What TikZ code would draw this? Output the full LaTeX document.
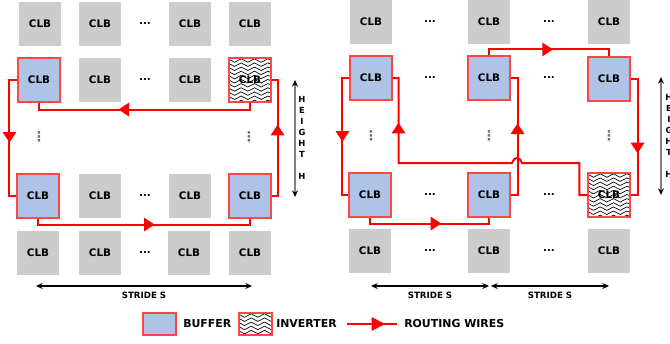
\documentclass[tikz,border=0pt]{standalone}
\usepackage{fontspec}
\setmainfont{DejaVu Sans}
\definecolor{clbgray}{RGB}{204,204,204}
\definecolor{bufblue}{RGB}{174,195,230}
\definecolor{wirered}{RGB}{255,0,0}
\definecolor{edgered}{RGB}{255,70,70}
\definecolor{dotgray}{RGB}{110,110,110}
\usetikzlibrary{arrows.meta,decorations.pathmorphing,decorations.markings,calc}

\tikzset{
  clb/.style={fill=clbgray,minimum width=31.5pt,minimum height=33pt,inner sep=0pt,
              font=\fontsize{7.8}{9}\selectfont\bfseries},
  buffer/.style={clb,fill=bufblue,draw=edgered,line width=0.8pt},
  inverter/.style={clb,fill=white,draw=edgered,line width=0.8pt,
    path picture={\foreach \k in {1,...,11}
      \draw[black,line width=0.5pt,decorate,decoration={snake,amplitude=1.3pt,segment length=10pt}]
        ([xshift=-4pt,yshift={1.2pt-\k*3.1pt}]path picture bounding box.north west) --
        ([xshift=4pt,yshift={1.2pt-\k*3.1pt}]path picture bounding box.north east);}},
  hdots/.style={font=\fontsize{7.8}{9}\selectfont\bfseries},
  vdots/.style={text=dotgray,font=\fontsize{10}{11}\selectfont\bfseries},
  wire/.style={wirered,line width=1.5pt},
  wirearrow/.style={postaction={decorate,decoration={markings,
      mark=at position #1 with {\arrow{Triangle[length=8pt,width=10pt]}}}}},
  legendarrow/.style={postaction={decorate,decoration={markings,
      mark=at position #1 with {\arrow{Triangle[length=10pt,width=10pt]}}}}},
  dimarrow/.style={{Stealth[length=5pt,width=4.5pt]}-{Stealth[length=5pt,width=4.5pt]},line width=0.8pt},
  heightarrow/.style={draw=gray,line width=0.9pt,
      {Stealth[length=5pt,width=4.5pt,color=black]}-{Stealth[length=5pt,width=4.5pt,color=black]}},
  dimlabel/.style={font=\fontsize{6.5}{8}\selectfont\bfseries},
  heightlabel/.style={align=center,inner sep=0pt,font=\fontsize{6.3}{8.25}\selectfont\bfseries},
  legtext/.style={anchor=west,inner sep=0pt,font=\fontsize{8.2}{10}\selectfont\bfseries}
}

\begin{document}
\begin{tikzpicture}[x=0.75pt,y=-0.75pt]
  \useasboundingbox (0,0) rectangle (670,343);

  % left array: one stride
  \node[clb] (la1) at (40,24) {CLB};
  \node[clb] (la2) at (100,24) {CLB};
  \node[hdots] (lad) at (145,24) {...};
  \node[clb] (la3) at (190,24) {CLB};
  \node[clb] (la4) at (250,24) {CLB};

  \node[buffer] (lb1) at (39,80) {CLB};
  \node[clb] (lb2) at (100,80) {CLB};
  \node[hdots] (lbd) at (145,80) {...};
  \node[clb] (lb3) at (190,80) {CLB};
  \node[inverter] (lb4) at (250,80) {CLB};

  \node[vdots] (lv1) at (39,137) {⋮};
  \node[vdots] (lv4) at (249,137) {⋮};

  \node[buffer] (lc1) at (38,196) {CLB};
  \node[clb] (lc2) at (100,196) {CLB};
  \node[hdots] (lcd) at (145,196) {...};
  \node[clb] (lc3) at (190,196) {CLB};
  \node[buffer] (lc4) at (250,196) {CLB};

  \node[clb] (ld1) at (38,253) {CLB};
  \node[clb] (ld2) at (100,253) {CLB};
  \node[hdots] (ldd) at (145,253) {...};
  \node[clb] (ld3) at (189,253) {CLB};
  \node[clb] (ld4) at (250,253) {CLB};

  % left routing wires
  \draw[wire,wirearrow=104pt] (lb4.south) -- ++(0,7) -| (lb1.south);
  \draw[wire,wirearrow=53pt] (lb1.west) -- ++(-8,0) |- (lc1.west);
  \draw[wire,wirearrow=92pt] (lc1.south) -- ++(0,6) -| (lc4.south);
  \draw[wire,wirearrow=58pt] (lc4.east) -- ++(6,0) |- (lb4.east);

  % left dimensions
  \coordinate (lht) at (295,80);
  \coordinate (lhb) at (295,197);
  \draw[heightarrow] (lht) -- (lhb);
  \node[heightlabel] (lheight) at (302,138) {H\\E\\I\\G\\H\\T\\[8.25pt]H};
  \coordinate (lsa) at (36,286);
  \coordinate (lsb) at (252,286);
  \draw[dimarrow] (lsa) -- (lsb);
  \node[dimlabel] (lstride) at (144,295) {STRIDE S};

  % right array: two strides
  \node[clb] (ra1) at (371,22) {CLB};
  \node[hdots] (rad1) at (430,22) {...};
  \node[clb] (ra2) at (489,22) {CLB};
  \node[hdots] (rad2) at (549,22) {...};
  \node[clb] (ra3) at (609,22) {CLB};

  \node[buffer] (rb1) at (371,78) {CLB};
  \node[hdots] (rbd1) at (430,78) {...};
  \node[buffer] (rb2) at (489,78) {CLB};
  \node[hdots] (rbd2) at (549,78) {...};
  \node[buffer] (rb3) at (609,79) {CLB};

  \node[vdots] (rv1) at (371,136) {⋮};
  \node[vdots] (rv2) at (489,136) {⋮};
  \node[vdots] (rv3) at (609,136) {⋮};

  \node[buffer] (rc1) at (370,195) {CLB};
  \node[hdots] (rcd1) at (430,195) {...};
  \node[buffer] (rc2) at (489,195) {CLB};
  \node[hdots] (rcd2) at (549,195) {...};
  \node[inverter] (rc3) at (609,195) {CLB};

  \node[clb] (rd1) at (370,251) {CLB};
  \node[hdots] (rdd1) at (430,251) {...};
  \node[clb] (rd2) at (489,251) {CLB};
  \node[hdots] (rdd2) at (549,251) {...};
  \node[clb] (rd3) at (609,251) {CLB};

  % right routing wires
  \coordinate (hopR) at (522,163);
  \coordinate (hopL) at (512,163);
  \draw[wire,wirearrow=52.5pt] (rb2.north) -- ++(0,-6) -| (rb3.north);
  \draw[wire,wirearrow=53pt] (rb1.west) -- ++(-7,0) |- (rc1.west);
  \draw[wire,wirearrow=-38pt] (rc3.west) -- ++(-8,0) |- (hopR)
    .. controls (519,156) and (515,156) .. (hopL) -| ([xshift=4.5pt]rb1.east) -- (rb1.east);
  \draw[wire,wirearrow=59pt] (rc2.east) -- ++(7,0) |- (rb2.east);
  \draw[wire,wirearrow=61pt] (rb3.east) -- ++(7,0) |- (rc3.east);
  \draw[wire,wirearrow=58pt] (rc1.south) -- ++(0,6) -| (rc2.south);

  % right dimensions
  \coordinate (rht) at (661,77);
  \coordinate (rhb) at (661,195);
  \draw[heightarrow] (rht) -- (rhb);
  \node[heightlabel] (rheight) at (669,136) {H\\E\\I\\G\\H\\T\\[8.25pt]H};
  \coordinate (rsa) at (371,286);
  \coordinate (rsb) at (489,286);
  \coordinate (rsc) at (491,286);
  \coordinate (rsd) at (609,286);
  \draw[dimarrow] (rsa) -- (rsb);
  \draw[dimarrow] (rsc) -- (rsd);
  \node[dimlabel] (rstride1) at (430,295) {STRIDE S};
  \node[dimlabel] (rstride2) at (550,295) {STRIDE S};

  % legend
  \node[buffer,minimum width=24.75pt,minimum height=16.5pt] (legbuf) at (159.5,324) {};
  \node[legtext] (legbuftext) at (183,324) {BUFFER};
  \node[inverter,minimum width=24.75pt,minimum height=16.5pt] (leginv) at (255.5,324) {};
  \node[legtext] (leginvtext) at (276,324) {INVERTER};
  \coordinate (legwa) at (347,324);
  \coordinate (legwb) at (397,324);
  \draw[wire,legendarrow=28.5pt] (legwa) -- (legwb);
  \node[legtext] (legwiretext) at (404,324) {ROUTING WIRES};
\end{tikzpicture}
\end{document}
